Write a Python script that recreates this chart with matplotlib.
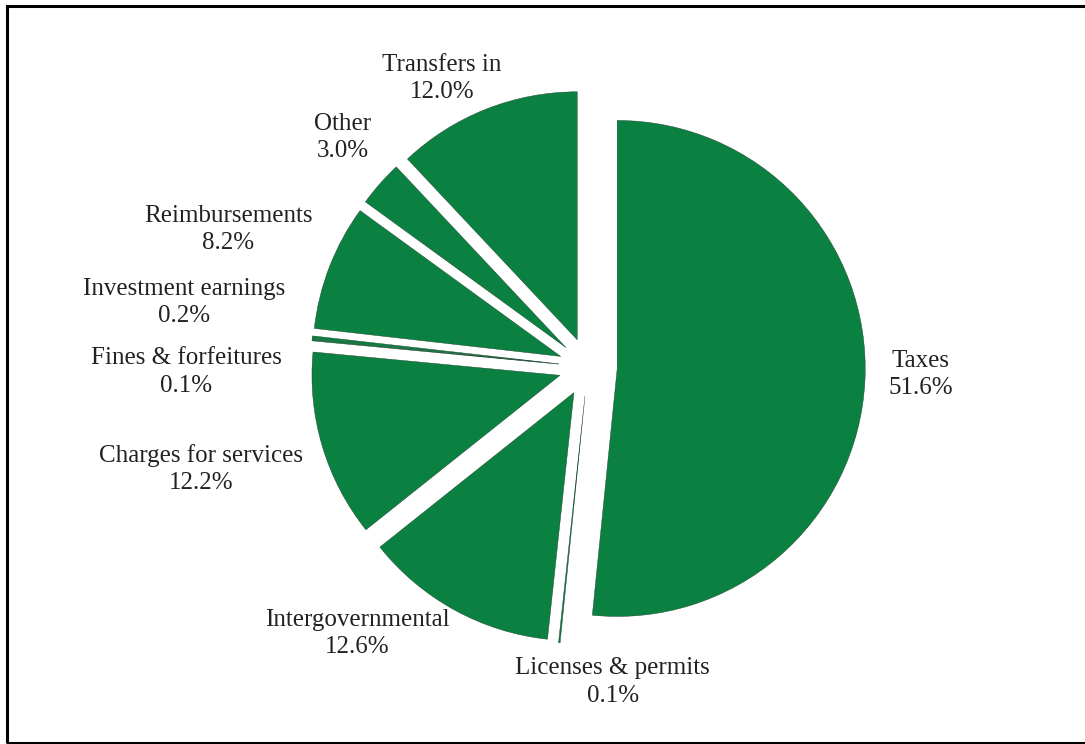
import numpy as np
import matplotlib.pyplot as plt
from matplotlib.patches import Rectangle

plt.rcParams['font.family'] = ['Liberation Serif', 'DejaVu Serif']

categories = ['Taxes', 'Licenses & permits', 'Intergovernmental',
              'Charges for services', 'Fines & forfeitures',
              'Investment earnings', 'Reimbursements', 'Other',
              'Transfers in']
shares = [51.6, 0.1, 12.6, 12.2, 0.1, 0.2, 8.2, 3.0, 12.0]

# label anchor points in pie units (centre = 0,0, radius = 1)
label_pos = [(1.34, -0.03), (0.10, -1.27), (-0.93, -1.075), (-1.56, -0.41),
             (-1.62, -0.02), (-1.63, 0.26), (-1.45, 0.555), (-0.99, 0.925),
             (-0.59, 1.165)]

green = '#0b8141'

fig = plt.figure(figsize=(10.85, 7.44), dpi=100)
ax = fig.add_axes([0, 0, 1, 1])

cx, cy, r = 588, 367, 248  # pixel centre and radius
wedges, _ = ax.pie(shares, startangle=90, counterclock=False,
                   explode=[0.118] * len(shares), colors=[green] * len(shares),
                   wedgeprops=dict(edgecolor='#1c3a29', linewidth=0.3))

ax.set_xlim(-cx / r, (1085 - cx) / r)
ax.set_ylim((cy - 744) / r, cy / r)
ax.set_aspect('equal')
ax.axis('off')

for name, val, (lx, ly) in zip(categories, shares, label_pos):
    ax.text(lx, ly, f'{name}\n{val:.1f}%', ha='center', va='center',
            fontsize=18, color='#222222', linespacing=1.3)

# outer frame
fig.patches.append(Rectangle((7 / 1085, 1 / 744), 1.1, 737 / 744,
                             transform=fig.transFigure, fill=False,
                             edgecolor='black', linewidth=2.2))

fig.savefig('out.png', dpi=100)
